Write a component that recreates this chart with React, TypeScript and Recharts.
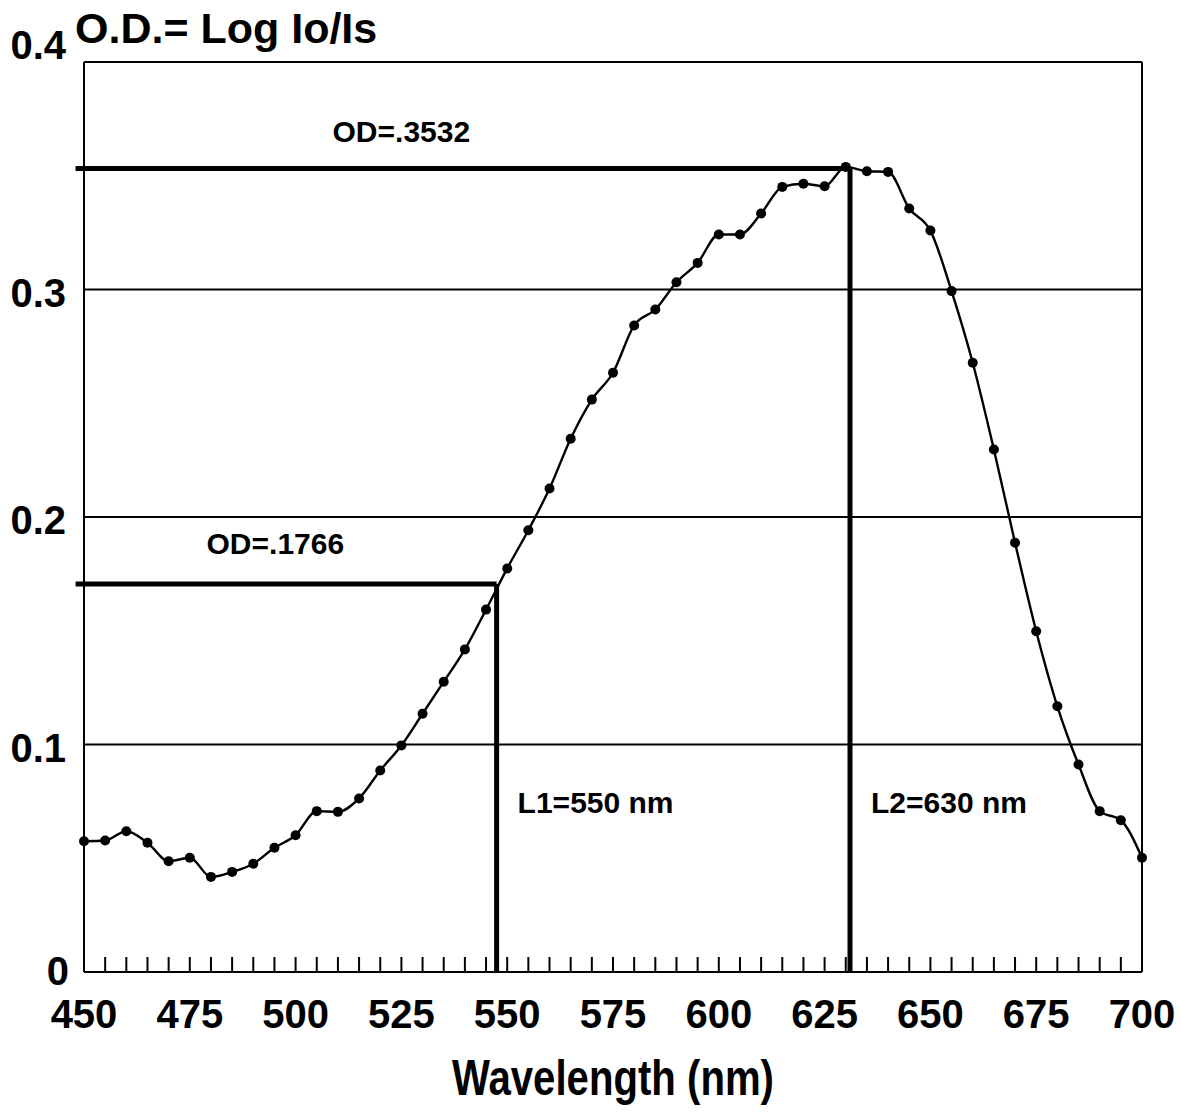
import React from "react";
import { LineChart, Line, XAxis, YAxis, CartesianGrid, ReferenceLine, Label } from "recharts";

// absorption spectrum
const wavelengths = [
  450, 455, 460, 465, 470, 475, 480, 485, 490, 495,
  500, 505, 510, 515, 520, 525, 530, 535, 540, 545,
  550, 555, 560, 565, 570, 575, 580, 585, 590, 595,
  600, 605, 610, 615, 620, 625, 630, 635, 640, 645,
  650, 655, 660, 665, 670, 675, 680, 685, 690, 695, 700,
];
const odValues = [
  0.0575, 0.0578, 0.0619, 0.0568, 0.0487, 0.0502, 0.0418, 0.044, 0.0476, 0.0546,
  0.0601, 0.0707, 0.0704, 0.0763, 0.0886, 0.0996, 0.1135, 0.1276, 0.1418, 0.1593,
  0.1774, 0.1942, 0.2125, 0.2344, 0.2516, 0.2634, 0.2842, 0.2912, 0.3032, 0.3117,
  0.3242, 0.3242, 0.3334, 0.3451, 0.3465, 0.3454, 0.3539, 0.352, 0.3517, 0.3356,
  0.3259, 0.2993, 0.2678, 0.2297, 0.1887, 0.1498, 0.1168, 0.0912, 0.0707, 0.0667, 0.0502,
];
const majorTicks = [450, 475, 500, 525, 550, 575, 600, 625, 650, 675, 700];
const yTicks = [0, 0.1, 0.2, 0.3, 0.4];

// the two marked wavelengths, at the spot where the figure draws them
const markerLabels = ["L1=550 nm", "L2=630 nm"];
const markerOdLabels = ["OD=.1766", "OD=.3532"];
const markerX = [547.5, 631];
const markerY = [0.1705, 0.3532];

const data = wavelengths.map((w, i) => ({ w, od: odValues[i] }));

const FONT = '"Liberation Sans", Arial, Helvetica, sans-serif';

function XTick(props: any) {
  const { x, y, payload } = props;
  const v = payload.value;
  const edge = v === 450 || v === 700;
  return (
    <g>
      {!edge && <line x1={x} x2={x} y1={y} y2={y - 15} stroke="#000" strokeWidth={2} />}
      {majorTicks.includes(v) && (
        <text x={x} y={y + 56} textAnchor="middle" fontFamily={FONT} fontWeight="bold" fontSize={40} fill="#000">
          {v}
        </text>
      )}
    </g>
  );
}

function YTick(props: any) {
  const { x, y, payload } = props;
  const v = payload.value;
  const dy = v === 0.4 ? -3 : v === 0 ? 13 : 17;
  return (
    <text x={v === 0 ? x + 3 : x} y={y + dy} textAnchor="end" fontFamily={FONT} fontWeight="bold" fontSize={40} fill="#000">
      {v === 0 ? "0" : v.toFixed(1)}
    </text>
  );
}

const txt = { fontFamily: FONT, fontWeight: "bold" as const, fontSize: 30, fill: "#000" };

export default function App() {
  return (
    <div style={{ position: "absolute", left: 0, top: 0, background: "#fff" }}>
      <LineChart width={1182} height={1112} data={data} margin={{ top: 62, right: 40, bottom: 0, left: 0 }}>
        <CartesianGrid horizontal vertical={false} stroke="#000" strokeWidth={2} />
        <XAxis
          dataKey="w"
          type="number"
          domain={[450, 700]}
          ticks={wavelengths}
          interval={0}
          height={140}
          tickSize={0}
          tickMargin={0}
          tickLine={false}
          axisLine={{ stroke: "#000", strokeWidth: 2 }}
          tick={<XTick />}
        >
          <Label
            content={({ viewBox }: any) => (
              <text
                x={viewBox.x + viewBox.width / 2}
                y={viewBox.y + 123}
                textAnchor="middle"
                fontFamily={FONT}
                fontWeight="bold"
                fontSize={50}
                textLength={322}
                lengthAdjust="spacingAndGlyphs"
                fill="#000"
              >
                Wavelength (nm)
              </text>
            )}
          />
        </XAxis>
        <YAxis
          domain={[0, 0.4]}
          ticks={yTicks}
          width={84}
          tickSize={0}
          tickMargin={18}
          tickLine={false}
          axisLine={{ stroke: "#000", strokeWidth: 2 }}
          tick={<YTick />}
        >
          <Label
            content={({ viewBox }: any) => (
              <text x={viewBox.x + 75} y={viewBox.y - 19} fontFamily={FONT} fontWeight="bold" fontSize={43} fill="#000">
                O.D.= Log Io/Is
              </text>
            )}
          />
        </YAxis>

        {/* right frame edge */}
        <ReferenceLine x={700} ifOverflow="visible" stroke="#000" strokeWidth={2} />

        {markerX.map((mx, i) => (
          <ReferenceLine
            key={"h" + i}
            segment={[{ x: 448, y: markerY[i] }, { x: mx, y: markerY[i] }]}
            ifOverflow="visible"
            stroke="#000"
            strokeWidth={5}
            label={({ viewBox }: any) => (
              <text x={viewBox.x + (i === 0 ? 131 : 257)} y={viewBox.y - (i === 0 ? 30 : 26)} {...txt}>
                {markerOdLabels[i]}
              </text>
            )}
          />
        ))}
        {markerX.map((mx, i) => (
          <ReferenceLine
            key={"v" + i}
            segment={[{ x: mx, y: 0 }, { x: mx, y: markerY[i] }]}
            ifOverflow="visible"
            stroke="#000"
            strokeWidth={5}
            label={({ viewBox }: any) => (
              <text x={viewBox.x + 21} y={viewBox.y + viewBox.height - 159} {...txt}>
                {markerLabels[i]}
              </text>
            )}
          />
        ))}

        <Line
          dataKey="od"
          type="monotone"
          stroke="#000"
          strokeWidth={2.4}
          dot={{ r: 5, fill: "#000", stroke: "none" }}
          activeDot={false}
          isAnimationActive={false}
        />
      </LineChart>
    </div>
  );
}
